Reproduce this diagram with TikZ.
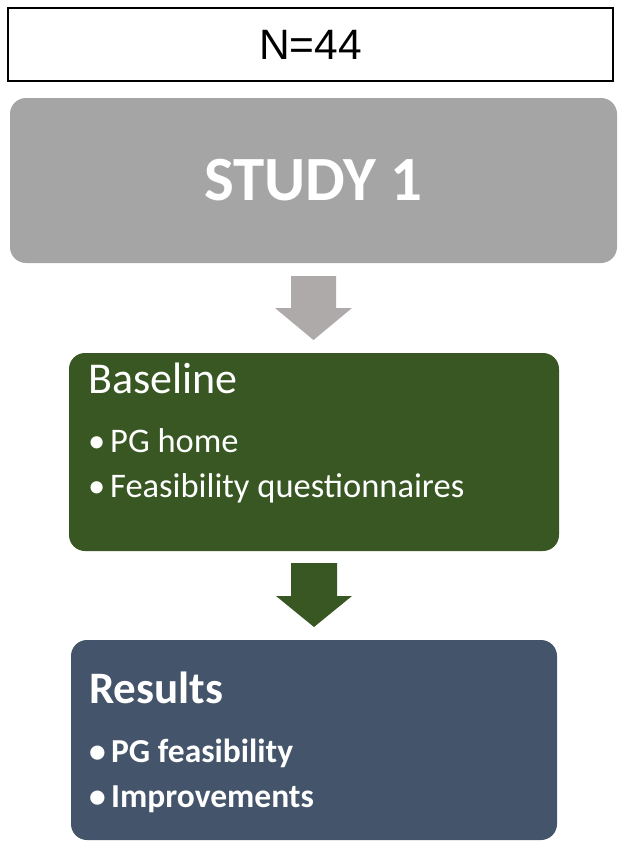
\documentclass[tikz,border=0pt]{standalone}
\usepackage{fontspec}
\setmainfont{Carlito}
\newfontfamily\arialfont{Liberation Sans}
\usetikzlibrary{positioning}
\definecolor{studygray}{HTML}{A5A5A5}
\definecolor{arrowgray}{HTML}{AEAAAA}
\definecolor{basegreen}{HTML}{385723}
\definecolor{resultslate}{HTML}{44546A}
\newcommand{\bul}{\makebox[22pt][l]{\textbullet}}
\begin{document}
\begin{tikzpicture}[x=1pt,y=-1pt,
 panel/.style={rounded corners=16pt,inner sep=0pt,draw=none},
 head/.style={anchor=base west,inner sep=0pt,text=white},
 item/.style={anchor=base west,inner sep=0pt,text=white,font=\fontsize{34.5}{41}\selectfont}]
\useasboundingbox (0,0) rectangle (621,843);
% sample size
\node[draw=black,line width=2pt,minimum width=605pt,minimum height=73pt,inner sep=0pt,
 font=\arialfont\fontsize{42.5}{50}\selectfont] (n) at (310.5,44.5) {N=44};
% study title
\node[panel,fill=studygray,minimum width=607pt,minimum height=165pt,text=white,
 font=\bfseries\fontsize{63}{76}\selectfont] (study) at (313.5,180.5) {STUDY 1};
\fill[arrowgray] (291,276) -- (336,276) -- (336,308) -- (352,308) -- (313.5,340)
 -- (275,308) -- (291,308) -- cycle;
% baseline
\node[panel,fill=basegreen,minimum width=490pt,minimum height=198pt] (base) at (314,452) {};
\node[head,font=\fontsize{44}{52}\selectfont] (basetitle) at (88,393) {Baseline};
\node[item] (pghome) at (88,452) {\bul PG home};
\node[item] (quest) at (88,497) {\bul Feasibility questionnaires};
\fill[basegreen] (291,563) -- (337,563) -- (337,596) -- (352,596) -- (314,627)
 -- (276,596) -- (291,596) -- cycle;
% results
\node[panel,fill=resultslate,minimum width=486pt,minimum height=200pt] (res) at (314,740) {};
\node[head,font=\bfseries\fontsize{45}{54}\selectfont] (restitle) at (89,703) {Results};
\node[item,font=\bfseries\fontsize{33.5}{40}\selectfont] (feas) at (89,762) {\bul PG feasibility};
\node[item,font=\bfseries\fontsize{33.5}{40}\selectfont] (impr) at (89,807) {\bul Improvements};
\end{tikzpicture}
\end{document}
